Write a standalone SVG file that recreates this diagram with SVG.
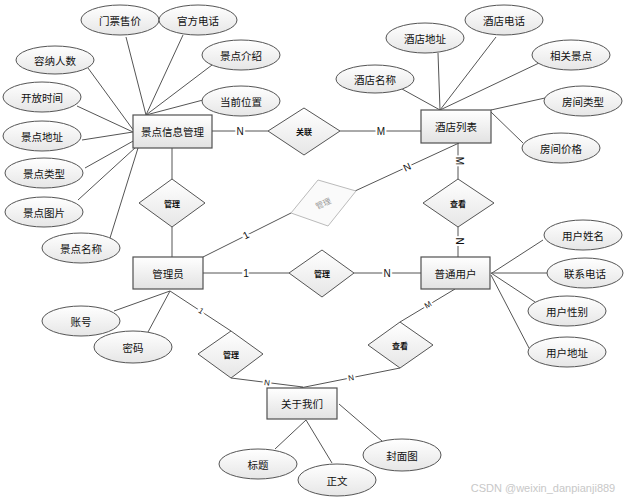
<svg xmlns="http://www.w3.org/2000/svg" width="624" height="500" viewBox="0 0 624 500">
<defs>
<linearGradient id="gr" x1="0" y1="0" x2="0" y2="1"><stop offset="0" stop-color="#ffffff"/><stop offset="1" stop-color="#e2e2e2"/></linearGradient>
<linearGradient id="ge" x1="0" y1="0" x2="0" y2="1"><stop offset="0" stop-color="#ffffff"/><stop offset="1" stop-color="#e6e6e6"/></linearGradient>
<style>
.ent{fill:url(#gr);stroke:#505050;stroke-width:1.2}
.att{fill:url(#ge);stroke:#555;stroke-width:1}
.rel{fill:url(#ge);stroke:#555;stroke-width:1}
.ln{stroke:#555;stroke-width:1;fill:none}
text{font-family:"Noto Sans CJK SC","Liberation Sans",sans-serif;fill:#111;text-anchor:middle;dominant-baseline:central}
.t{font-size:10.5px}
.r{font-size:8px;font-weight:bold}
.c{font-size:10px;font-family:"Liberation Sans",sans-serif;paint-order:stroke;stroke:#fff;stroke-width:4px}
</style>
</defs>
<rect width="624" height="500" fill="#fff"/>
<g id="connectors">
<line class="ln" x1="126" y1="37" x2="146" y2="115"/>
<line class="ln" x1="183" y1="35" x2="146" y2="115"/>
<line class="ln" x1="212" y1="65" x2="146" y2="115"/>
<line class="ln" x1="203" y1="100" x2="146" y2="115"/>
<line class="ln" x1="88" y1="68" x2="134" y2="131"/>
<line class="ln" x1="77" y1="106" x2="133" y2="132"/>
<line class="ln" x1="82" y1="140" x2="133" y2="132"/>
<line class="ln" x1="85" y1="168" x2="135" y2="140"/>
<line class="ln" x1="78" y1="200" x2="136" y2="147"/>
<line class="ln" x1="110" y1="238" x2="138" y2="148"/>
<line class="ln" x1="402" y1="89" x2="440" y2="110"/>
<line class="ln" x1="438" y1="53" x2="440" y2="110"/>
<line class="ln" x1="496" y1="37" x2="440" y2="110"/>
<line class="ln" x1="539" y1="63" x2="440" y2="110"/>
<line class="ln" x1="545" y1="98" x2="491" y2="110"/>
<line class="ln" x1="523" y1="143" x2="491" y2="112"/>
<line class="ln" x1="543" y1="240" x2="492" y2="273"/>
<line class="ln" x1="547" y1="273" x2="491" y2="273"/>
<line class="ln" x1="535" y1="302" x2="491" y2="273"/>
<line class="ln" x1="529" y1="348" x2="491" y2="275"/>
<line class="ln" x1="114" y1="311" x2="170" y2="291"/>
<line class="ln" x1="148" y1="332" x2="170" y2="291"/>
<line class="ln" x1="275" y1="449" x2="306" y2="420"/>
<line class="ln" x1="332" y1="463" x2="306" y2="420"/>
<line class="ln" x1="382" y1="441" x2="339" y2="404"/>
<line class="ln" x1="212" y1="131" x2="268" y2="131"/>
<line class="ln" x1="340" y1="131" x2="421" y2="131"/>
<line class="ln" x1="172" y1="148" x2="172" y2="179"/>
<line class="ln" x1="172" y1="227" x2="172" y2="257"/>
<line class="ln" x1="458" y1="143" x2="458" y2="179"/>
<line class="ln" x1="458" y1="227" x2="458" y2="257"/>
<line class="ln" x1="203" y1="257" x2="291" y2="213"/>
<line class="ln" x1="355" y1="191" x2="459" y2="143"/>
<line class="ln" x1="203" y1="273" x2="289" y2="273"/>
<line class="ln" x1="354" y1="273" x2="421" y2="273"/>
<line class="ln" x1="170" y1="291" x2="231" y2="331"/>
<line class="ln" x1="231" y1="378" x2="303" y2="387"/>
<line class="ln" x1="455" y1="289" x2="400" y2="322"/>
<line class="ln" x1="400" y1="368" x2="300" y2="388"/>
<text class="c" x="240" y="131">N</text>
<text class="c" x="381" y="131">M</text>
<text class="c" x="459" y="161" transform="rotate(90 459 161)">M</text>
<text class="c" x="459" y="241" transform="rotate(90 459 241)">N</text>
<text class="c" x="246" y="235" transform="rotate(-27 246 235)">1</text>
<text class="c" x="407" y="167" transform="rotate(-25 407 167)">N</text>
<text class="c" x="246" y="273">1</text>
<text class="c" x="387" y="273">N</text>
<text class="c" x="201" y="311" style="font-size:8px" transform="rotate(33 201 311)">1</text>
<text class="c" x="267" y="383" style="font-size:8px" transform="rotate(8 267 383)">N</text>
<text class="c" x="428" y="305" style="font-size:8px" transform="rotate(-31 428 305)">M</text>
<text class="c" x="351" y="378" style="font-size:8px" transform="rotate(-11 351 378)">N</text>
</g>
<g id="e-jingdian"><rect class="ent" x="133" y="115" width="79" height="33"/><text class="t" x="172.5" y="131.5">景点信息管理</text></g>
<g id="e-jiudian"><rect class="ent" x="421" y="110" width="70" height="33"/><text class="t" x="456" y="126.5">酒店列表</text></g>
<g id="e-admin"><rect class="ent" x="133" y="257" width="70" height="32"/><text class="t" x="168" y="273">管理员</text></g>
<g id="e-user"><rect class="ent" x="421" y="257" width="69" height="32"/><text class="t" x="455.5" y="273">普通用户</text></g>
<g id="e-about"><rect class="ent" x="267" y="388" width="70" height="31"/><text class="t" x="302" y="403.5">关于我们</text></g>
<g id="r-guanlian"><polygon class="rel" points="304,108 340,131 304,155 268,131"/><text class="r" x="304" y="131">关联</text></g>
<g id="r-guanli-faded"><polygon points="318,180 356,191 328,226 291,213" fill="#fafafa" stroke="#bbb" stroke-width="1"/><text class="r" x="323" y="203" style="fill:#999;font-weight:normal" transform="rotate(-25 323 203)">管理</text></g>
<g id="r-guanli1"><polygon class="rel" points="172,179 205,203 172,227 139,203"/><text class="r" x="172" y="203">管理</text></g>
<g id="r-chakan1"><polygon class="rel" points="458,179 494,203 458,227 423,203"/><text class="r" x="458" y="203">查看</text></g>
<g id="r-guanli2"><polygon class="rel" points="322,250 354,273 322,297 289,273"/><text class="r" x="322" y="273">管理</text></g>
<g id="r-guanli3"><polygon class="rel" points="231,331 263,354 231,378 198,354"/><text class="r" x="231" y="354">管理</text></g>
<g id="r-chakan2"><polygon class="rel" points="400,322 433,345 400,368 368,345"/><text class="r" x="400" y="345">查看</text></g>
<g id="a-menpiao"><ellipse class="att" cx="120" cy="20" rx="39" ry="15"/><text class="t" x="120" y="20">门票售价</text></g>
<g id="a-guanfang"><ellipse class="att" cx="198" cy="20" rx="39" ry="15"/><text class="t" x="198" y="20">官方电话</text></g>
<g id="a-rongna"><ellipse class="att" cx="55" cy="60" rx="39" ry="14"/><text class="t" x="55" y="60">容纳人数</text></g>
<g id="a-jieshao"><ellipse class="att" cx="241" cy="55" rx="39" ry="15"/><text class="t" x="241" y="55">景点介绍</text></g>
<g id="a-kaifang"><ellipse class="att" cx="42" cy="97" rx="39" ry="15"/><text class="t" x="42" y="97">开放时间</text></g>
<g id="a-weizhi"><ellipse class="att" cx="241" cy="101" rx="39" ry="15"/><text class="t" x="241" y="101">当前位置</text></g>
<g id="a-dizhi"><ellipse class="att" cx="42" cy="136" rx="39" ry="15"/><text class="t" x="42" y="136">景点地址</text></g>
<g id="a-leixing"><ellipse class="att" cx="44" cy="173" rx="39" ry="15"/><text class="t" x="44" y="173">景点类型</text></g>
<g id="a-tupian"><ellipse class="att" cx="44" cy="212" rx="39" ry="15"/><text class="t" x="44" y="212">景点图片</text></g>
<g id="a-mingcheng"><ellipse class="att" cx="81" cy="248" rx="39" ry="15"/><text class="t" x="81" y="248">景点名称</text></g>
<g id="a-jdmc"><ellipse class="att" cx="375" cy="79" rx="39" ry="14"/><text class="t" x="375" y="79">酒店名称</text></g>
<g id="a-jddz"><ellipse class="att" cx="425" cy="38" rx="39" ry="15"/><text class="t" x="425" y="38">酒店地址</text></g>
<g id="a-jddh"><ellipse class="att" cx="504" cy="20" rx="39" ry="15"/><text class="t" x="504" y="20">酒店电话</text></g>
<g id="a-xgjd"><ellipse class="att" cx="571" cy="55" rx="39" ry="15"/><text class="t" x="571" y="55">相关景点</text></g>
<g id="a-fjlx"><ellipse class="att" cx="583" cy="101" rx="39" ry="15"/><text class="t" x="583" y="101">房间类型</text></g>
<g id="a-fjjg"><ellipse class="att" cx="561" cy="148" rx="39" ry="15"/><text class="t" x="561" y="148">房间价格</text></g>
<g id="a-yhxm"><ellipse class="att" cx="583" cy="235" rx="39" ry="15"/><text class="t" x="583" y="235">用户姓名</text></g>
<g id="a-lxdh"><ellipse class="att" cx="585" cy="273" rx="38" ry="15"/><text class="t" x="585" y="273">联系电话</text></g>
<g id="a-yhxb"><ellipse class="att" cx="567" cy="311" rx="39" ry="15"/><text class="t" x="567" y="311">用户性别</text></g>
<g id="a-yhdz"><ellipse class="att" cx="567" cy="352" rx="39" ry="15"/><text class="t" x="567" y="352">用户地址</text></g>
<g id="a-zhanghao"><ellipse class="att" cx="81" cy="321" rx="39" ry="15"/><text class="t" x="81" y="321">账号</text></g>
<g id="a-mima"><ellipse class="att" cx="133" cy="347" rx="39" ry="16"/><text class="t" x="133" y="347">密码</text></g>
<g id="a-biaoti"><ellipse class="att" cx="258" cy="464" rx="39" ry="15"/><text class="t" x="258" y="464">标题</text></g>
<g id="a-zhengwen"><ellipse class="att" cx="337" cy="480" rx="39" ry="16"/><text class="t" x="337" y="480">正文</text></g>
<g id="a-fengmian"><ellipse class="att" cx="402" cy="455" rx="39" ry="16"/><text class="t" x="402" y="455">封面图</text></g>
<text x="543" y="488" style="font-size:11px;fill:#c8c8c8;font-family:'Liberation Sans',sans-serif">CSDN @weixin_danpianji889</text>
</svg>
